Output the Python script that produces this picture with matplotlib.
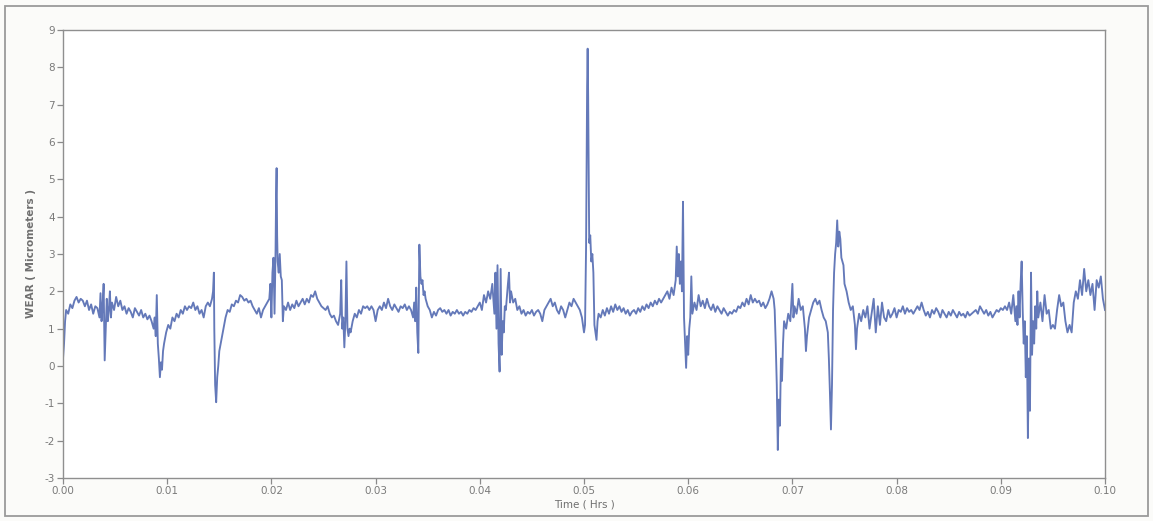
import numpy as np
import matplotlib
matplotlib.use("Agg")
import matplotlib.pyplot as plt
from matplotlib.patches import Rectangle

# ---- data: (time in Hrs, wear in micrometers) ----
seg_a = [(0.0000, 0.2), (0.0001, 0.6), (0.0002, 1.2), (0.0003, 1.5), (0.0005, 1.4), (0.0007, 1.65),
         (0.0009, 1.55), (0.0011, 1.75), (0.0013, 1.85), (0.0015, 1.7), (0.0017, 1.8), (0.0019, 1.75),
         (0.0021, 1.6), (0.0023, 1.75), (0.0025, 1.5), (0.0027, 1.65), (0.0029, 1.4), (0.0031, 1.6),
         (0.0033, 1.55), (0.0035, 1.3), (0.0036, 1.95), (0.0037, 1.2), (0.0038, 1.6), (0.0039, 2.2),
         (0.0040, 0.15), (0.0041, 1.0), (0.0042, 1.8), (0.0043, 1.2), (0.0044, 1.5), (0.0045, 2.0),
         (0.0046, 1.3), (0.0047, 1.7), (0.0049, 1.5), (0.0051, 1.85), (0.0053, 1.6), (0.0055, 1.75),
         (0.0057, 1.5), (0.0059, 1.6), (0.0061, 1.4), (0.0063, 1.55), (0.0065, 1.45), (0.0067, 1.3),
         (0.0069, 1.55), (0.0071, 1.45), (0.0073, 1.35), (0.0075, 1.5), (0.0077, 1.3), (0.0079, 1.4),
         (0.0081, 1.25), (0.0083, 1.35)]
seg_b = [(0.0085, 1.2), (0.0087, 1.0), (0.0088, 1.3), (0.0089, 0.8), (0.0090, 1.9), (0.0091, 0.6),
         (0.0092, 0.2), (0.0093, -0.3), (0.0094, 0.1), (0.0095, -0.1), (0.0096, 0.4), (0.0097, 0.6),
         (0.0099, 0.9), (0.0101, 1.1), (0.0103, 1.0), (0.0105, 1.3), (0.0107, 1.2), (0.0109, 1.4),
         (0.0111, 1.3), (0.0113, 1.5), (0.0115, 1.4), (0.0117, 1.6), (0.0119, 1.5), (0.0121, 1.6),
         (0.0123, 1.55), (0.0125, 1.7), (0.0127, 1.5), (0.0129, 1.6), (0.0131, 1.4), (0.0133, 1.5),
         (0.0135, 1.3), (0.0137, 1.6), (0.0139, 1.7), (0.0141, 1.6), (0.0143, 1.8), (0.0144, 2.0)]
seg_c = [(0.01448, 2.5), (0.01452, 1.0), (0.0146, -0.5), (0.0147, -0.97), (0.0148, -0.3), (0.0149, 0.0),
         (0.0150, 0.4), (0.0152, 0.7), (0.0154, 1.0), (0.0156, 1.3), (0.0158, 1.5), (0.0160, 1.45),
         (0.0162, 1.65), (0.0164, 1.6), (0.0166, 1.75), (0.0168, 1.7), (0.0170, 1.9), (0.0172, 1.85),
         (0.0174, 1.75), (0.0176, 1.8), (0.0178, 1.7), (0.0180, 1.75), (0.0182, 1.6), (0.0184, 1.5),
         (0.0186, 1.4), (0.0188, 1.55), (0.0190, 1.3), (0.0192, 1.5), (0.0194, 1.6), (0.0196, 1.7)]
seg_d = [(0.0198, 1.8), (0.0199, 2.2), (0.0200, 1.3), (0.0201, 2.5), (0.0202, 2.9), (0.0203, 1.4),
         (0.0204, 3.1), (0.02045, 4.6), (0.0205, 5.3), (0.02055, 3.5), (0.0206, 2.8), (0.0207, 2.5),
         (0.0208, 3.0), (0.0209, 2.4), (0.0210, 2.3), (0.0211, 1.2), (0.0212, 1.6), (0.0214, 1.5),
         (0.0216, 1.7), (0.0218, 1.5), (0.0220, 1.65), (0.0222, 1.55), (0.0224, 1.75), (0.0226, 1.6),
         (0.0228, 1.7), (0.0230, 1.8), (0.0232, 1.65), (0.0234, 1.8), (0.0236, 1.7), (0.0238, 1.9),
         (0.0240, 1.85), (0.0242, 2.0), (0.0244, 1.8), (0.0246, 1.7), (0.0248, 1.6), (0.0250, 1.55),
         (0.0252, 1.5), (0.0254, 1.6), (0.0256, 1.4), (0.0258, 1.3), (0.0260, 1.35), (0.0262, 1.2)]
seg_e = [(0.0264, 1.1), (0.0266, 1.4), (0.0267, 2.3), (0.0268, 1.0), (0.0269, 1.3), (0.0270, 0.5),
         (0.0271, 1.2), (0.0272, 2.8), (0.0273, 1.0), (0.0274, 0.8), (0.0275, 1.0), (0.0276, 0.9),
         (0.0278, 1.2), (0.0280, 1.4), (0.0282, 1.3), (0.0284, 1.5), (0.0286, 1.4), (0.0288, 1.6),
         (0.0290, 1.55), (0.0292, 1.6), (0.0294, 1.5), (0.0296, 1.6), (0.0298, 1.5), (0.0300, 1.2),
         (0.0302, 1.5), (0.0304, 1.6), (0.0306, 1.5), (0.0308, 1.7), (0.0310, 1.55), (0.0312, 1.8),
         (0.0314, 1.6), (0.0316, 1.5), (0.0318, 1.65), (0.0320, 1.55), (0.0322, 1.45), (0.0324, 1.6),
         (0.0326, 1.55), (0.0328, 1.65), (0.0330, 1.5), (0.0332, 1.6), (0.0334, 1.5), (0.0336, 1.3)]
seg_f = [(0.0337, 1.7), (0.0338, 1.2), (0.0339, 2.1), (0.0340, 0.9), (0.0341, 0.35), (0.0342, 3.25),
         (0.0343, 2.4), (0.0344, 2.2), (0.0345, 2.3), (0.0346, 1.9), (0.0347, 2.0), (0.0348, 1.8),
         (0.0350, 1.6), (0.0352, 1.5), (0.0354, 1.3), (0.0356, 1.45), (0.0358, 1.35), (0.0360, 1.5),
         (0.0362, 1.55), (0.0364, 1.45), (0.0366, 1.5), (0.0368, 1.4), (0.0370, 1.5), (0.0372, 1.35),
         (0.0374, 1.45), (0.0376, 1.4), (0.0378, 1.5), (0.0380, 1.4), (0.0382, 1.45), (0.0384, 1.35),
         (0.0386, 1.45), (0.0388, 1.4), (0.0390, 1.5), (0.0392, 1.45), (0.0394, 1.55), (0.0396, 1.5),
         (0.0398, 1.6), (0.0400, 1.7), (0.0402, 1.5), (0.0404, 1.9)]
seg_g = [(0.0406, 1.7), (0.0408, 2.0), (0.0410, 1.8), (0.0412, 2.2), (0.0414, 1.4), (0.0415, 2.5),
         (0.0416, 1.0), (0.0417, 2.7), (0.0418, 0.6), (0.0419, -0.15), (0.0420, 2.6), (0.0421, 0.3),
         (0.0422, 1.2), (0.0423, 0.9), (0.0424, 1.6), (0.0425, 1.5), (0.0427, 2.2), (0.0428, 2.5),
         (0.0429, 1.7), (0.0430, 2.0), (0.0432, 1.7), (0.0434, 1.8), (0.0436, 1.5), (0.0438, 1.6),
         (0.0440, 1.4), (0.0442, 1.5), (0.0444, 1.35), (0.0446, 1.45), (0.0448, 1.4), (0.0450, 1.5),
         (0.0452, 1.35), (0.0454, 1.45), (0.0456, 1.5), (0.0458, 1.4), (0.0460, 1.2), (0.0462, 1.5),
         (0.0464, 1.6), (0.0466, 1.7), (0.0468, 1.8), (0.0470, 1.6), (0.0472, 1.7), (0.0474, 1.5),
         (0.0476, 1.4), (0.0478, 1.6), (0.0480, 1.5), (0.0482, 1.3), (0.0484, 1.5), (0.0486, 1.7),
         (0.0488, 1.6), (0.0490, 1.8), (0.0492, 1.7), (0.0494, 1.6), (0.0496, 1.5), (0.0498, 1.3),
         (0.0500, 0.9)]
seg_h = [(0.0501, 1.1), (0.0502, 3.2), (0.0503, 7.5), (0.05035, 8.5), (0.0504, 7.2), (0.0505, 3.3),
         (0.0506, 3.5), (0.0507, 2.8), (0.0508, 3.0), (0.0509, 2.5), (0.0510, 1.1), (0.0511, 0.9),
         (0.0512, 0.7), (0.0513, 1.2), (0.0514, 1.4), (0.0516, 1.3), (0.0518, 1.5), (0.0520, 1.35),
         (0.0522, 1.55), (0.0524, 1.4), (0.0526, 1.6), (0.0528, 1.45), (0.0530, 1.65), (0.0532, 1.5),
         (0.0534, 1.6), (0.0536, 1.45), (0.0538, 1.55), (0.0540, 1.4), (0.0542, 1.5), (0.0544, 1.35),
         (0.0546, 1.45), (0.0548, 1.5), (0.0550, 1.4), (0.0552, 1.55), (0.0554, 1.45), (0.0556, 1.6),
         (0.0558, 1.5), (0.0560, 1.65), (0.0562, 1.55), (0.0564, 1.7), (0.0566, 1.6), (0.0568, 1.75),
         (0.0570, 1.65), (0.0572, 1.8), (0.0574, 1.7), (0.0576, 1.8), (0.0578, 1.9)]
seg_i = [(0.0580, 2.0), (0.0582, 1.8), (0.0584, 2.1), (0.0586, 1.9), (0.0588, 2.3), (0.0589, 3.2),
         (0.0590, 2.4), (0.0591, 3.0), (0.0592, 2.2), (0.0593, 2.8), (0.0594, 2.0), (0.0595, 4.4),
         (0.0596, 1.3), (0.0597, 0.6), (0.0598, -0.05), (0.0599, 0.8), (0.0600, 0.3), (0.0601, 1.0),
         (0.0602, 1.3), (0.0603, 2.4), (0.0604, 1.4), (0.0606, 1.7), (0.0608, 1.5), (0.0610, 1.9),
         (0.0612, 1.6), (0.0614, 1.75), (0.0616, 1.55), (0.0618, 1.8), (0.0620, 1.6), (0.0622, 1.5),
         (0.0624, 1.65), (0.0626, 1.45), (0.0628, 1.6), (0.0630, 1.5), (0.0632, 1.4), (0.0634, 1.55),
         (0.0636, 1.45), (0.0638, 1.35), (0.0640, 1.45), (0.0642, 1.4), (0.0644, 1.5), (0.0646, 1.45),
         (0.0648, 1.6), (0.0650, 1.55), (0.0652, 1.7), (0.0654, 1.6), (0.0656, 1.8), (0.0658, 1.65),
         (0.0660, 1.9), (0.0662, 1.7), (0.0664, 1.8)]
seg_j = [(0.0666, 1.7), (0.0668, 1.75), (0.0670, 1.6), (0.0672, 1.7), (0.0674, 1.55), (0.0676, 1.65),
         (0.0678, 1.8), (0.0680, 2.0), (0.0682, 1.8), (0.0683, 1.5), (0.0684, 0.6), (0.0685, -0.5),
         (0.0686, -2.25), (0.0687, -0.9), (0.0688, -1.6), (0.0689, 0.2), (0.0690, -0.4), (0.0691, 0.6),
         (0.0692, 1.2), (0.0694, 1.0), (0.0696, 1.4), (0.0698, 1.2), (0.0700, 2.2), (0.0701, 1.3),
         (0.0702, 1.6), (0.0704, 1.4), (0.0706, 1.8), (0.0708, 1.5), (0.0710, 1.6), (0.0712, 1.0),
         (0.0713, 0.4), (0.0714, 0.8), (0.0716, 1.3), (0.0718, 1.5), (0.0720, 1.7), (0.0722, 1.8),
         (0.0724, 1.65), (0.0726, 1.75), (0.0728, 1.5), (0.0730, 1.3), (0.0732, 1.2), (0.0734, 0.9),
         (0.0735, 0.2)]
seg_k = [(0.0736, -0.7), (0.0737, -1.7), (0.0738, -0.5), (0.0739, 1.5), (0.0740, 2.5), (0.0741, 3.0),
         (0.0742, 3.3), (0.0743, 3.9), (0.0744, 3.2), (0.0745, 3.6), (0.0746, 3.4), (0.0747, 2.9),
         (0.0749, 2.7), (0.0750, 2.2), (0.0752, 2.0), (0.0754, 1.7), (0.0756, 1.5), (0.0758, 1.6),
         (0.0760, 1.1), (0.0761, 0.45), (0.0762, 1.0), (0.0764, 1.4), (0.0766, 1.2), (0.0768, 1.5),
         (0.0770, 1.3), (0.0772, 1.6), (0.0774, 1.0), (0.0776, 1.4), (0.0778, 1.8), (0.0780, 0.9),
         (0.0782, 1.6), (0.0784, 1.1), (0.0786, 1.7), (0.0788, 1.3), (0.0790, 1.2), (0.0792, 1.5),
         (0.0794, 1.3), (0.0796, 1.4), (0.0798, 1.55), (0.0800, 1.3)]
seg_l = [(0.0802, 1.5), (0.0804, 1.45), (0.0806, 1.6), (0.0808, 1.4), (0.0810, 1.55), (0.0812, 1.45),
         (0.0814, 1.5), (0.0816, 1.4), (0.0818, 1.5), (0.0820, 1.6), (0.0822, 1.5), (0.0824, 1.7),
         (0.0826, 1.5), (0.0828, 1.35), (0.0830, 1.45), (0.0832, 1.3), (0.0834, 1.5), (0.0836, 1.4),
         (0.0838, 1.55), (0.0840, 1.45), (0.0842, 1.3), (0.0844, 1.5), (0.0846, 1.4), (0.0848, 1.3),
         (0.0850, 1.45), (0.0852, 1.35), (0.0854, 1.5), (0.0856, 1.4), (0.0858, 1.3), (0.0860, 1.45),
         (0.0862, 1.35), (0.0864, 1.4), (0.0866, 1.3), (0.0868, 1.45), (0.0870, 1.35), (0.0872, 1.4),
         (0.0874, 1.45), (0.0876, 1.5), (0.0878, 1.4), (0.0880, 1.6), (0.0882, 1.5), (0.0884, 1.4),
         (0.0886, 1.5), (0.0888, 1.35), (0.0890, 1.45), (0.0892, 1.3), (0.0894, 1.4), (0.0896, 1.5),
         (0.0898, 1.45), (0.0900, 1.55), (0.0902, 1.5), (0.0904, 1.6), (0.0906, 1.5), (0.0908, 1.7),
         (0.0910, 1.4), (0.0912, 1.9), (0.0914, 1.2)]
seg_m = [(0.0915, 1.6), (0.0916, 1.1), (0.0917, 2.0), (0.0918, 1.3), (0.0919, 2.2), (0.0920, 2.8),
         (0.0921, 1.5), (0.0922, 0.6), (0.0923, 1.2), (0.0924, -0.3), (0.0925, 0.8), (0.0926, -1.93),
         (0.0927, 0.2), (0.0928, -1.2), (0.0929, 2.5), (0.0930, 0.3), (0.0931, 1.2), (0.0932, 0.6),
         (0.0933, 1.6), (0.0934, 1.0), (0.0935, 2.0), (0.0936, 1.3), (0.0938, 1.7), (0.0940, 1.2),
         (0.0942, 1.9), (0.0944, 1.4), (0.0946, 1.5), (0.0948, 1.0), (0.0950, 1.1), (0.0952, 1.0),
         (0.0954, 1.5), (0.0956, 1.9), (0.0958, 1.6), (0.0960, 1.7), (0.0962, 1.2), (0.0964, 0.9),
         (0.0966, 1.1), (0.0968, 0.9), (0.0970, 1.7), (0.0972, 2.0), (0.0974, 1.8), (0.0976, 2.3),
         (0.0978, 1.9), (0.0980, 2.6), (0.0982, 2.0), (0.0984, 2.3), (0.0986, 1.9), (0.0988, 2.2),
         (0.0990, 1.5), (0.0992, 2.3), (0.0994, 2.1), (0.0996, 2.4), (0.0998, 1.8), (0.1000, 1.5)]

segments = [seg_a, seg_b, seg_c, seg_d, seg_e, seg_f, seg_g, seg_h, seg_i, seg_j, seg_k, seg_l, seg_m]
pts = np.array([p for s in segments for p in s])
order = np.argsort(pts[:, 0], kind="stable")
time_hrs = pts[order, 0]
wear_um = pts[order, 1]

x_ticks = [0.00, 0.01, 0.02, 0.03, 0.04, 0.05, 0.06, 0.07, 0.08, 0.09, 0.10]
y_ticks = [-3, -2, -1, 0, 1, 2, 3, 4, 5, 6, 7, 8, 9]

# ---- figure ----
W, H = 1153, 521
fig = plt.figure(figsize=(W / 100, H / 100), dpi=100)
fig.patch.set_facecolor("#fbfbf9")
fig.patches.append(Rectangle((5 / W, 5 / H), 1 - 10 / W, 1 - 11 / H, transform=fig.transFigure,
                             fill=False, edgecolor="#9a9a9a", linewidth=1.3))

ax = fig.add_axes([63 / W, 1 - 478 / H, (1105 - 63) / W, (478 - 30) / H])
ax.set_facecolor("white")
ax.plot(time_hrs, wear_um, color="#6479b9", linewidth=1.35, solid_joinstyle="round")

ax.set_xlim(0, 0.10)
ax.set_ylim(-3, 9)
ax.set_xticks(x_ticks)
ax.set_xticklabels([f"{v:.2f}" for v in x_ticks])
ax.set_yticks(y_ticks)
ax.set_yticklabels([str(v) for v in y_ticks])

tick_col = "#8a8a8a"
for sp in ax.spines.values():
    sp.set_color("#8f8f8f")
    sp.set_linewidth(1.0)
ax.tick_params(axis="both", direction="out", length=4, width=0.9, color=tick_col,
               labelcolor="#7a7a7a", labelsize=7.5, pad=2)

ax.set_xlabel("Time ( Hrs )", fontsize=7.5, color="#6f6f6f", labelpad=2)
ax.set_ylabel("WEAR ( Micrometers )", fontsize=7.5, color="#6f6f6f", fontweight="bold", labelpad=6)

fig.savefig("out.png", dpi=100, facecolor=fig.get_facecolor())
